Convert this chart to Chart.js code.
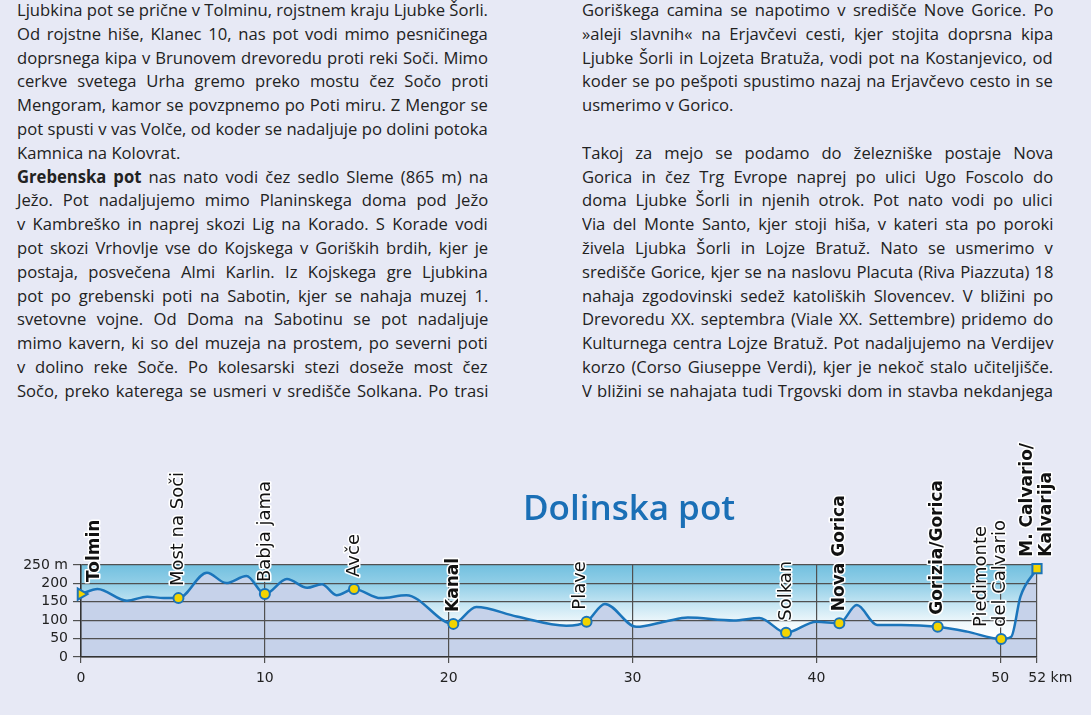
<!DOCTYPE html>
<html>
<head>
<meta charset="utf-8">
<script src="https://cdn.jsdelivr.net/npm/chart.js@4.4.0/dist/chart.umd.min.js"></script>
<style>
  html, body { margin: 0; padding: 0; }
  body {
    width: 1091px; height: 715px; overflow: hidden; position: relative;
    background: #e7e9f5;
    font-family: "Open Sans", sans-serif;
  }
  .col {
    position: absolute; top: -2px; width: 471px;
    font-size: 17px; line-height: 23.8px; color: #222222;
  }
  .row { white-space: nowrap; height: 23.8px; }
  .row span { display: inline-block; transform-origin: 0 0; white-space: pre; }
  #title {
    position: absolute; left: 429px; width: 400px; top: 489px;
    text-align: center; font: 600 35px/35px "Open Sans", sans-serif; color: #1a6fb6;
  }
  #profile { position: absolute; left: 0; top: 430px; }
</style>
</head>
<body>
<div class="col" id="leftCol" style="left:17px"></div>
<div class="col" id="rightCol" style="left:582px"></div>
<canvas id="profile" width="1091" height="285"></canvas>
<div id="title">Dolinska pot</div>

<script>
// Elevation profile (km along the route, metres)
const kmPoints = [0, 0.9, 2.5, 3.6, 4.5, 5.3, 6.85, 7.9, 9.0, 10, 11.2, 12.3, 13.1, 13.9, 14.85,
  16.3, 17.7, 20.25, 21.5, 23.7, 26.4, 27.5, 28.5, 30.2, 31.9, 33, 35.5, 36.9, 38.35, 40,
  41.25, 42.2, 43.3, 44.6, 46.6, 48.2, 50.05, 50.6, 51.1, 52];
const elevation = [171, 185, 153, 164, 160, 160, 229, 201, 220, 171, 212, 188, 198, 168, 185,
  160, 168, 90, 136, 110, 85, 96, 144, 82, 98, 107, 99, 106, 66, 96,
  92, 141, 87, 87, 82, 69, 49, 55, 164, 240];

// Stops along the way
const stopNames = ['Tolmin', 'Most na Soči', 'Babja jama', 'Avče', 'Kanal', 'Plave', 'Solkan',
  'Nova Gorica', 'Gorizia/Gorica', ['Piedimonte', 'del Calvario'], ['M. Calvario/', 'Kalvarija']];
const stopKm = [0, 5.3, 10, 14.85, 20.25, 27.5, 38.35, 41.25, 46.6, 50.05, 52];
const stopElev = [171, 160, 171, 185, 90, 96, 66, 92, 82, 49, 240];
const majorStop = [true, false, false, false, true, false, false, true, true, false, true];

// Axis ticks
const xTicks = [0, 10, 20, 30, 40, 50, 52];
const yTicks = [0, 50, 100, 150, 200, 250];

// Text above the chart
const leftLines = [
  'Ljubkina pot se prične v Tolminu, rojstnem kraju Ljubke Šorli.',
  'Od rojstne hiše, Klanec 10, nas pot vodi mimo pesničinega',
  'doprsnega kipa v Brunovem drevoredu proti reki Soči. Mimo',
  'cerkve svetega Urha gremo preko mostu čez Sočo proti',
  'Mengoram, kamor se povzpnemo po Poti miru. Z Mengor se',
  'pot spusti v vas Volče, od koder se nadaljuje po dolini potoka',
  'Kamnica na Kolovrat.',
  '**Grebenska pot** nas nato vodi čez sedlo Sleme (865 m) na',
  'Ježo. Pot nadaljujemo mimo Planinskega doma pod Ježo',
  'v Kambreško in naprej skozi Lig na Korado. S Korade vodi',
  'pot skozi Vrhovlje vse do Kojskega v Goriških brdih, kjer je',
  'postaja, posvečena Almi Karlin. Iz Kojskega gre Ljubkina',
  'pot po grebenski poti na Sabotin, kjer se nahaja muzej 1.',
  'svetovne vojne. Od Doma na Sabotinu se pot nadaljuje',
  'mimo kavern, ki so del muzeja na prostem, po severni poti',
  'v dolino reke Soče. Po kolesarski stezi doseže most čez',
  'Sočo, preko katerega se usmeri v središče Solkana. Po trasi'
];
const leftEnds = [6];
const rightLines = [
  'Goriškega camina se napotimo v središče Nove Gorice. Po',
  '»aleji slavnih« na Erjavčevi cesti, kjer stojita doprsna kipa',
  'Ljubke Šorli in Lojzeta Bratuža, vodi pot na Kostanjevico, od',
  'koder se po pešpoti spustimo nazaj na Erjavčevo cesto in se',
  'usmerimo v Gorico.',
  '',
  'Takoj za mejo se podamo do železniške postaje Nova',
  'Gorica in čez Trg Evrope naprej po ulici Ugo Foscolo do',
  'doma Ljubke Šorli in njenih otrok. Pot nato vodi po ulici',
  'Via del Monte Santo, kjer stoji hiša, v kateri sta po poroki',
  'živela Ljubka Šorli in Lojze Bratuž. Nato se usmerimo v',
  'središče Gorice, kjer se na naslovu Placuta (Riva Piazzuta) 18',
  'nahaja zgodovinski sedež katoliških Slovencev. V bližini po',
  'Drevoredu XX. septembra (Viale XX. Settembre) pridemo do',
  'Kulturnega centra Lojze Bratuž. Pot nadaljujemo na Verdijev',
  'korzo (Corso Giuseppe Verdi), kjer je nekoč stalo učiteljišče.',
  'V bližini se nahajata tudi Trgovski dom in stavba nekdanjega'
];
const rightEnds = [4, 5];

// Build the text rows, then squeeze / justify them to the column width
const colWidth = 471;
const rows = [];
function buildColumn(id, lines, ends) {
  const col = document.getElementById(id);
  lines.forEach((line, i) => {
    const row = document.createElement('div');
    row.className = 'row';
    const span = document.createElement('span');
    span.innerHTML = line.replace(/\*\*(.+?)\*\*/g, '<b>$1</b>');
    row.appendChild(span);
    col.appendChild(row);
    rows.push({ span, justify: line !== '' && !ends.includes(i) });
  });
}
buildColumn('leftCol', leftLines, leftEnds);
buildColumn('rightCol', rightLines, rightEnds);

let squeeze = 1;
rows.forEach(r => {
  if (r.justify) squeeze = Math.min(squeeze, colWidth / r.span.offsetWidth);
});
rows.forEach(r => {
  const w = r.span.offsetWidth;
  if (r.justify) {
    const gaps = (r.span.textContent.match(/ /g) || []).length;
    if (gaps) r.span.style.wordSpacing = ((colWidth / squeeze - w) / gaps) + 'px';
  }
  r.span.style.transform = 'scaleX(' + squeeze + ')';
});

// Sky colour above the profile
function skyGradient(context) {
  const area = context.chart.chartArea;
  if (!area) return 'rgba(0,0,0,0)';
  const g = context.chart.ctx.createLinearGradient(0, area.top, 0, area.bottom);
  g.addColorStop(0, '#72c0df');
  g.addColorStop(0.22, '#95d0e8');
  g.addColorStop(0.42, '#c4e5f3');
  g.addColorStop(0.62, '#eef7fb');
  g.addColorStop(0.78, '#ffffff');
  g.addColorStop(1, '#ffffff');
  return g;
}

// Rotated stop names above each marker
const labelNudge = { 0: 14, 5: -6, 9: -10 };
const stopLabels = {
  id: 'stopLabels',
  afterDatasetsDraw(chart) {
    const { ctx, scales: { x, y } } = chart;
    stopNames.forEach((name, i) => {
      const lines = Array.isArray(name) ? name : [name];
      const px = x.getPixelForValue(stopKm[i]) + (labelNudge[i] || 0);
      const py = y.getPixelForValue(stopElev[i]) - 12;
      ctx.save();
      ctx.translate(px, py);
      ctx.rotate(-Math.PI / 2);
      ctx.font = majorStop[i] ? 'bold 17px "DejaVu Sans"' : '18px "DejaVu Sans"';
      ctx.textAlign = 'left';
      ctx.textBaseline = 'middle';
      ctx.lineJoin = 'round';
      lines.forEach((t, j) => {
        const off = (j - (lines.length - 1) / 2) * 19;
        ctx.strokeStyle = '#ffffff';
        ctx.lineWidth = 3;
        ctx.strokeText(t, 0, off);
        ctx.fillStyle = '#111111';
        ctx.fillText(t, 0, off);
      });
      ctx.restore();
    });
  }
};

const profilePoints = kmPoints.map((km, i) => ({ x: km, y: elevation[i] }));
const stopPoints = stopKm.map((km, i) => ({ x: km, y: stopElev[i] }));
const lastStop = stopKm.length - 1;

new Chart(document.getElementById('profile'), {
  type: 'line',
  data: {
    datasets: [
      {
        // stops (drawn on top)
        data: stopPoints,
        showLine: false,
        clip: false,
        pointStyle: c => c.dataIndex === 0 ? 'triangle' : (c.dataIndex === lastStop ? 'rect' : 'circle'),
        pointRotation: c => c.dataIndex === 0 ? 90 : 0,
        pointRadius: c => (c.dataIndex === 0 || c.dataIndex === lastStop) ? 6.5 : 5,
        pointBackgroundColor: '#f3d400',
        pointBorderColor: '#1b74b9',
        pointBorderWidth: 2
      },
      {
        // terrain line + ground fill
        data: profilePoints,
        borderColor: '#1b75bb',
        borderWidth: 2.5,
        backgroundColor: '#c6d2ea',
        fill: 'start',
        pointRadius: 0,
        cubicInterpolationMode: 'monotone'
      },
      {
        // sky above the terrain
        data: profilePoints,
        borderWidth: 0,
        borderColor: 'rgba(0,0,0,0)',
        backgroundColor: skyGradient,
        fill: 'end',
        pointRadius: 0,
        cubicInterpolationMode: 'monotone'
      }
    ]
  },
  options: {
    responsive: false,
    animation: false,
    events: [],
    layout: { padding: { top: 135, right: 54, left: 0, bottom: 0 } },
    plugins: {
      legend: { display: false },
      tooltip: { enabled: false },
      filler: { drawTime: 'beforeDraw' }
    },
    scales: {
      x: {
        type: 'linear',
        min: 0,
        max: 52,
        afterBuildTicks: s => { s.ticks = xTicks.map(v => ({ value: v })); },
        afterFit: s => { s.height = 58; },
        grid: { color: '#505050', lineWidth: 1.2, tickLength: 6 },
        border: { color: '#333333', width: 1.5 },
        ticks: {
          autoSkip: false,
          maxRotation: 0,
          padding: 7,
          color: '#222222',
          font: { family: '"DejaVu Sans"', size: 14 },
          callback: v => v === 52 ? '\u2007\u2007\u200752 km' : v
        }
      },
      y: {
        min: 0,
        max: 250,
        afterBuildTicks: s => { s.ticks = yTicks.map(v => ({ value: v })); },
        afterFit: s => { s.width = 81; },
        grid: { color: '#505050', lineWidth: 1.2, tickLength: 8 },
        border: { color: '#333333', width: 1.5 },
        ticks: {
          autoSkip: false,
          padding: 5,
          color: '#222222',
          font: { family: '"DejaVu Sans"', size: 14 },
          callback: v => v === 250 ? '250 m' : v
        }
      }
    }
  },
  plugins: [stopLabels]
});
</script>
</body>
</html>
